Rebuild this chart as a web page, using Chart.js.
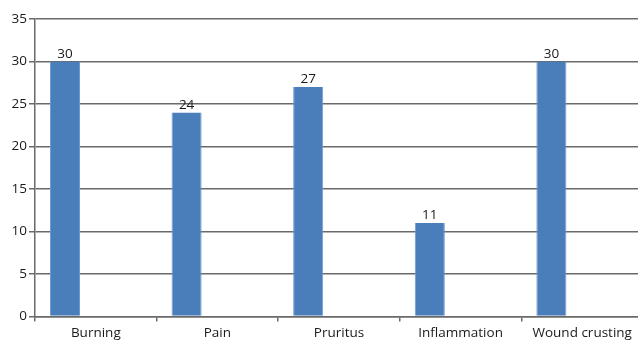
<!DOCTYPE html>
<html>
<head>
<meta charset="utf-8">
<script src="https://cdn.jsdelivr.net/npm/chart.js@4/dist/chart.umd.min.js"></script>
<style>
  html, body { margin: 0; padding: 0; background: #fff; overflow: hidden; }
  #wrap { position: relative; width: 643px; height: 340px; }
</style>
</head>
<body>
<div id="wrap"><canvas id="chart" width="643" height="340"></canvas></div>
<script>
// Symptom counts per category
const categories = ['Burning', 'Pain', 'Pruritus', 'Inflammation', 'Wound crusting'];
const counts = [30, 24, 27, 11, 30];
const yTicks = [0, 5, 10, 15, 20, 25, 30, 35];

const FONT = 'Open Sans';
const GRID = '#6a6a6a';
const TEXT = '#1a1a1a';

// Prints each bar's value just above its top
const valueLabels = {
  id: 'valueLabels',
  afterDatasetsDraw(chart) {
    const ctx = chart.ctx;
    const meta = chart.getDatasetMeta(0);
    ctx.save();
    ctx.font = '13.5px "' + FONT + '"';
    ctx.fillStyle = TEXT;
    ctx.textAlign = 'center';
    ctx.textBaseline = 'bottom';
    meta.data.forEach((bar, i) => {
      ctx.fillText(String(counts[i]), bar.x, bar.y - 1);
    });
    ctx.restore();
  }
};

new Chart(document.getElementById('chart'), {
  type: 'bar',
  data: {
    labels: categories,
    datasets: [
      { data: counts, backgroundColor: '#4a7ebb', borderColor: '#6f9bd4', borderWidth: { left: 1, right: 1, top: 0, bottom: 0 } },
      { data: categories.map(() => null) },
      { data: categories.map(() => null) }
    ]
  },
  options: {
    responsive: false,
    animation: false,
    events: [],
    layout: { padding: { top: 19, right: 0, left: 0, bottom: 0 } },
    categoryPercentage: 0.76,
    barPercentage: 0.976,
    plugins: { legend: { display: false }, tooltip: { enabled: false } },
    scales: {
      x: {
        grid: { drawOnChartArea: false, tickLength: 5, color: GRID, offset: true, lineWidth: 1.5 },
        border: { color: GRID, width: 1.5 },
        ticks: { color: TEXT, font: { family: FONT, size: 13.5 }, padding: 4, maxRotation: 0, autoSkip: false },
        afterFit(scale) { scale.height = 23.5; }
      },
      y: {
        min: 0,
        max: 35,
        afterBuildTicks(scale) { scale.ticks = yTicks.map(v => ({ value: v })); },
        grid: { color: GRID, lineWidth: 1.5, tickLength: 6 },
        border: { color: GRID, width: 1.5 },
        ticks: { color: TEXT, font: { family: FONT, size: 13.5 }, padding: 2 },
        afterFit(scale) { scale.width = 35; }
      }
    }
  },
  plugins: [valueLabels]
});
</script>
</body>
</html>
